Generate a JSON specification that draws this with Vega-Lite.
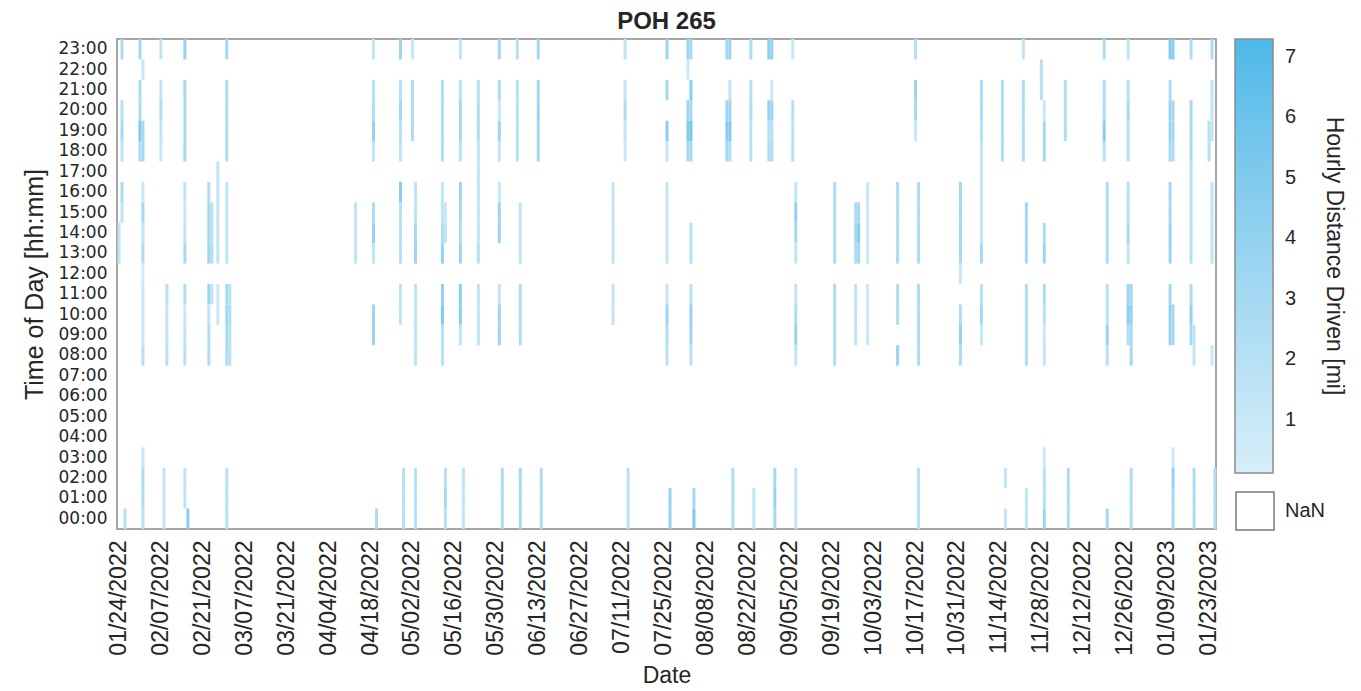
{
"$schema": "https://vega.github.io/schema/vega-lite/v6.json",
"width": 1099, "height": 490,
"autosize": {"type": "none"},
"padding": {"left": 117, "top": 39, "right": 145, "bottom": 162},
"background": "white",
"config": {"font": "Liberation Sans", "view": {"stroke": "#a6a6a6", "strokeWidth": 2}},
"title": {"text": "POH 265", "fontSize": 24, "fontWeight": "bold", "color": "#262626", "offset": 5, "anchor": "middle"},
"layer": [
{
"data": {"values": [
{"d":"01/24/2022","h":14,"v":1.5},{"d":"01/24/2022","h":13,"v":1.5},
{"d":"01/25/2022","h":23,"v":2.5},{"d":"01/25/2022","h":20,"v":2},{"d":"01/25/2022","h":19,"v":3},{"d":"01/25/2022","h":18,"v":1.5},{"d":"01/25/2022","h":16,"v":2.5},{"d":"01/25/2022","h":15,"v":1.5},
{"d":"01/26/2022","h":0,"v":2},
{"d":"01/31/2022","h":23,"v":3},{"d":"01/31/2022","h":21,"v":2.5},{"d":"01/31/2022","h":20,"v":2.5},{"d":"01/31/2022","h":19,"v":5},{"d":"01/31/2022","h":18,"v":2.5},
{"d":"02/01/2022","h":22,"v":1},{"d":"02/01/2022","h":19,"v":3},{"d":"02/01/2022","h":18,"v":3},{"d":"02/01/2022","h":16,"v":1},{"d":"02/01/2022","h":15,"v":3},{"d":"02/01/2022","h":14,"v":1.5},{"d":"02/01/2022","h":13,"v":2.5},{"d":"02/01/2022","h":12,"v":0.5},{"d":"02/01/2022","h":11,"v":1},{"d":"02/01/2022","h":10,"v":1},{"d":"02/01/2022","h":9,"v":1},{"d":"02/01/2022","h":8,"v":2},{"d":"02/01/2022","h":3,"v":1},{"d":"02/01/2022","h":2,"v":2.5},{"d":"02/01/2022","h":1,"v":2.5},{"d":"02/01/2022","h":0,"v":2},
{"d":"02/07/2022","h":23,"v":1.5},{"d":"02/07/2022","h":21,"v":1.5},{"d":"02/07/2022","h":20,"v":2.5},{"d":"02/07/2022","h":19,"v":1.5},{"d":"02/07/2022","h":18,"v":1},
{"d":"02/08/2022","h":2,"v":1.5},{"d":"02/08/2022","h":1,"v":1.5},{"d":"02/08/2022","h":0,"v":1.5},
{"d":"02/09/2022","h":11,"v":2},{"d":"02/09/2022","h":10,"v":1.5},{"d":"02/09/2022","h":9,"v":1.5},{"d":"02/09/2022","h":8,"v":2},
{"d":"02/15/2022","h":23,"v":4},{"d":"02/15/2022","h":21,"v":3},{"d":"02/15/2022","h":20,"v":3},{"d":"02/15/2022","h":19,"v":3},{"d":"02/15/2022","h":18,"v":3},{"d":"02/15/2022","h":16,"v":1.5},{"d":"02/15/2022","h":15,"v":1},{"d":"02/15/2022","h":14,"v":1.5},{"d":"02/15/2022","h":13,"v":3},{"d":"02/15/2022","h":11,"v":2.5},{"d":"02/15/2022","h":10,"v":1},{"d":"02/15/2022","h":9,"v":1.5},{"d":"02/15/2022","h":8,"v":2},{"d":"02/15/2022","h":2,"v":1.5},{"d":"02/15/2022","h":1,"v":1.5},
{"d":"02/16/2022","h":0,"v":4.5},
{"d":"02/23/2022","h":16,"v":2.5},{"d":"02/23/2022","h":15,"v":3},{"d":"02/23/2022","h":14,"v":3},{"d":"02/23/2022","h":13,"v":3.5},{"d":"02/23/2022","h":11,"v":3.5},{"d":"02/23/2022","h":10,"v":1.5},{"d":"02/23/2022","h":9,"v":2.5},{"d":"02/23/2022","h":8,"v":2.5},
{"d":"02/24/2022","h":15,"v":2},{"d":"02/24/2022","h":14,"v":2},{"d":"02/24/2022","h":13,"v":2.5},{"d":"02/24/2022","h":11,"v":1.5},
{"d":"02/26/2022","h":17,"v":1.5},{"d":"02/26/2022","h":16,"v":1.5},{"d":"02/26/2022","h":15,"v":1.5},{"d":"02/26/2022","h":14,"v":1.5},{"d":"02/26/2022","h":13,"v":1.5},{"d":"02/26/2022","h":11,"v":1},{"d":"02/26/2022","h":10,"v":1},
{"d":"03/01/2022","h":23,"v":3},{"d":"03/01/2022","h":21,"v":2.5},{"d":"03/01/2022","h":20,"v":2.5},{"d":"03/01/2022","h":19,"v":2.5},{"d":"03/01/2022","h":18,"v":2.5},{"d":"03/01/2022","h":16,"v":1.5},{"d":"03/01/2022","h":15,"v":1.5},{"d":"03/01/2022","h":14,"v":1.5},{"d":"03/01/2022","h":13,"v":1.5},{"d":"03/01/2022","h":11,"v":3},{"d":"03/01/2022","h":10,"v":3},{"d":"03/01/2022","h":9,"v":3},{"d":"03/01/2022","h":8,"v":2.5},{"d":"03/01/2022","h":2,"v":2},{"d":"03/01/2022","h":1,"v":2},{"d":"03/01/2022","h":0,"v":2},
{"d":"03/02/2022","h":11,"v":2},{"d":"03/02/2022","h":10,"v":2.5},{"d":"03/02/2022","h":9,"v":2},{"d":"03/02/2022","h":8,"v":2},
{"d":"04/13/2022","h":15,"v":1.5},{"d":"04/13/2022","h":14,"v":1.5},{"d":"04/13/2022","h":13,"v":1.5},
{"d":"04/19/2022","h":23,"v":1.5},{"d":"04/19/2022","h":21,"v":2},{"d":"04/19/2022","h":20,"v":2.5},{"d":"04/19/2022","h":19,"v":4},{"d":"04/19/2022","h":18,"v":1.5},{"d":"04/19/2022","h":15,"v":2.5},{"d":"04/19/2022","h":14,"v":4},{"d":"04/19/2022","h":13,"v":1.5},{"d":"04/19/2022","h":10,"v":3.5},{"d":"04/19/2022","h":9,"v":3.5},
{"d":"04/20/2022","h":0,"v":2.5},
{"d":"04/28/2022","h":23,"v":3.5},{"d":"04/28/2022","h":21,"v":2},{"d":"04/28/2022","h":20,"v":3},{"d":"04/28/2022","h":19,"v":2},{"d":"04/28/2022","h":18,"v":1.5},{"d":"04/28/2022","h":16,"v":4.5},{"d":"04/28/2022","h":15,"v":2},{"d":"04/28/2022","h":14,"v":2},{"d":"04/28/2022","h":13,"v":2},{"d":"04/28/2022","h":11,"v":1.5},{"d":"04/28/2022","h":10,"v":1.5},
{"d":"04/29/2022","h":2,"v":2},{"d":"04/29/2022","h":1,"v":2},{"d":"04/29/2022","h":0,"v":2},
{"d":"05/02/2022","h":23,"v":1},{"d":"05/02/2022","h":21,"v":2.5},{"d":"05/02/2022","h":20,"v":2.5},{"d":"05/02/2022","h":19,"v":2.5},
{"d":"05/03/2022","h":16,"v":1.5},{"d":"05/03/2022","h":15,"v":1.5},{"d":"05/03/2022","h":14,"v":3},{"d":"05/03/2022","h":13,"v":3.5},{"d":"05/03/2022","h":11,"v":1.5},{"d":"05/03/2022","h":10,"v":1.5},{"d":"05/03/2022","h":9,"v":1.5},{"d":"05/03/2022","h":8,"v":1.5},{"d":"05/03/2022","h":2,"v":2},{"d":"05/03/2022","h":1,"v":2},{"d":"05/03/2022","h":0,"v":2},
{"d":"05/12/2022","h":21,"v":2.5},{"d":"05/12/2022","h":20,"v":2.5},{"d":"05/12/2022","h":19,"v":2.5},{"d":"05/12/2022","h":18,"v":2.5},{"d":"05/12/2022","h":16,"v":1.5},{"d":"05/12/2022","h":15,"v":1.5},{"d":"05/12/2022","h":14,"v":2.5},{"d":"05/12/2022","h":13,"v":4},{"d":"05/12/2022","h":11,"v":4},{"d":"05/12/2022","h":10,"v":5},{"d":"05/12/2022","h":9,"v":2},{"d":"05/12/2022","h":8,"v":2},
{"d":"05/13/2022","h":15,"v":1},{"d":"05/13/2022","h":14,"v":1.5},{"d":"05/13/2022","h":2,"v":2},{"d":"05/13/2022","h":1,"v":3},{"d":"05/13/2022","h":0,"v":2},
{"d":"05/18/2022","h":23,"v":1.5},{"d":"05/18/2022","h":21,"v":2},{"d":"05/18/2022","h":20,"v":3},{"d":"05/18/2022","h":19,"v":3},{"d":"05/18/2022","h":18,"v":2},{"d":"05/18/2022","h":16,"v":3.5},{"d":"05/18/2022","h":15,"v":3},{"d":"05/18/2022","h":14,"v":2.5},{"d":"05/18/2022","h":13,"v":3.5},{"d":"05/18/2022","h":11,"v":4.5},{"d":"05/18/2022","h":10,"v":4.5},{"d":"05/18/2022","h":9,"v":1.5},
{"d":"05/19/2022","h":2,"v":1.5},{"d":"05/19/2022","h":1,"v":1.5},{"d":"05/19/2022","h":0,"v":1.5},
{"d":"05/24/2022","h":21,"v":2},{"d":"05/24/2022","h":20,"v":2.5},{"d":"05/24/2022","h":19,"v":2.5},{"d":"05/24/2022","h":18,"v":1.5},{"d":"05/24/2022","h":17,"v":1.5},{"d":"05/24/2022","h":16,"v":1.5},{"d":"05/24/2022","h":15,"v":1.5},{"d":"05/24/2022","h":14,"v":1.5},{"d":"05/24/2022","h":13,"v":2},{"d":"05/24/2022","h":11,"v":1.5},{"d":"05/24/2022","h":10,"v":1.5},{"d":"05/24/2022","h":9,"v":1.5},
{"d":"05/31/2022","h":23,"v":3},{"d":"05/31/2022","h":21,"v":2.5},{"d":"05/31/2022","h":20,"v":1},{"d":"05/31/2022","h":19,"v":3.5},{"d":"05/31/2022","h":18,"v":1.5},{"d":"05/31/2022","h":16,"v":1},{"d":"05/31/2022","h":15,"v":3.5},{"d":"05/31/2022","h":14,"v":3.5},{"d":"05/31/2022","h":11,"v":1.5},{"d":"05/31/2022","h":10,"v":3.5},{"d":"05/31/2022","h":9,"v":3.5},
{"d":"06/01/2022","h":2,"v":2.5},{"d":"06/01/2022","h":1,"v":2.5},{"d":"06/01/2022","h":0,"v":2.5},
{"d":"06/06/2022","h":23,"v":2},{"d":"06/06/2022","h":21,"v":2},{"d":"06/06/2022","h":20,"v":2},{"d":"06/06/2022","h":19,"v":2},{"d":"06/06/2022","h":18,"v":2},
{"d":"06/07/2022","h":15,"v":1.5},{"d":"06/07/2022","h":14,"v":1.5},{"d":"06/07/2022","h":13,"v":1.5},{"d":"06/07/2022","h":11,"v":2.5},{"d":"06/07/2022","h":10,"v":2.5},{"d":"06/07/2022","h":9,"v":2.5},{"d":"06/07/2022","h":2,"v":3},{"d":"06/07/2022","h":1,"v":3},{"d":"06/07/2022","h":0,"v":3},
{"d":"06/13/2022","h":23,"v":3},{"d":"06/13/2022","h":21,"v":3},{"d":"06/13/2022","h":20,"v":3.5},{"d":"06/13/2022","h":19,"v":3},{"d":"06/13/2022","h":18,"v":3},
{"d":"06/14/2022","h":2,"v":2.5},{"d":"06/14/2022","h":1,"v":2.5},{"d":"06/14/2022","h":0,"v":2.5},
{"d":"07/08/2022","h":16,"v":1.5},{"d":"07/08/2022","h":15,"v":1.5},{"d":"07/08/2022","h":14,"v":1.5},{"d":"07/08/2022","h":13,"v":1.5},{"d":"07/08/2022","h":11,"v":1.5},{"d":"07/08/2022","h":10,"v":1.5},
{"d":"07/12/2022","h":23,"v":1.5},{"d":"07/12/2022","h":21,"v":1.5},{"d":"07/12/2022","h":20,"v":2.5},{"d":"07/12/2022","h":19,"v":1.5},{"d":"07/12/2022","h":18,"v":1},
{"d":"07/13/2022","h":2,"v":2},{"d":"07/13/2022","h":1,"v":2},{"d":"07/13/2022","h":0,"v":2},
{"d":"07/26/2022","h":23,"v":3.5},{"d":"07/26/2022","h":21,"v":3},{"d":"07/26/2022","h":19,"v":4.5},{"d":"07/26/2022","h":18,"v":1.5},{"d":"07/26/2022","h":16,"v":1.5},{"d":"07/26/2022","h":15,"v":1.5},{"d":"07/26/2022","h":14,"v":1.5},{"d":"07/26/2022","h":13,"v":1.5},{"d":"07/26/2022","h":11,"v":1.5},{"d":"07/26/2022","h":10,"v":3.5},{"d":"07/26/2022","h":9,"v":2.5},{"d":"07/26/2022","h":8,"v":2},
{"d":"07/27/2022","h":1,"v":4},{"d":"07/27/2022","h":0,"v":4},
{"d":"08/02/2022","h":23,"v":3.5},{"d":"08/02/2022","h":22,"v":0.8},{"d":"08/02/2022","h":20,"v":3.5},{"d":"08/02/2022","h":19,"v":5},{"d":"08/02/2022","h":18,"v":3},
{"d":"08/03/2022","h":23,"v":3},{"d":"08/03/2022","h":21,"v":4.5},{"d":"08/03/2022","h":20,"v":3},{"d":"08/03/2022","h":19,"v":5.5},{"d":"08/03/2022","h":18,"v":3},{"d":"08/03/2022","h":14,"v":2},{"d":"08/03/2022","h":13,"v":2},{"d":"08/03/2022","h":11,"v":2},{"d":"08/03/2022","h":10,"v":4},{"d":"08/03/2022","h":9,"v":3.5},{"d":"08/03/2022","h":8,"v":2},
{"d":"08/04/2022","h":1,"v":3},{"d":"08/04/2022","h":0,"v":5},
{"d":"08/15/2022","h":23,"v":3},{"d":"08/15/2022","h":20,"v":3.5},{"d":"08/15/2022","h":19,"v":4.5},{"d":"08/15/2022","h":18,"v":3},
{"d":"08/16/2022","h":23,"v":3.5},{"d":"08/16/2022","h":21,"v":1.5},{"d":"08/16/2022","h":20,"v":3.5},{"d":"08/16/2022","h":19,"v":5},{"d":"08/16/2022","h":18,"v":2.5},
{"d":"08/17/2022","h":2,"v":2.5},{"d":"08/17/2022","h":1,"v":2.5},{"d":"08/17/2022","h":0,"v":2.5},
{"d":"08/23/2022","h":23,"v":2.5},{"d":"08/23/2022","h":21,"v":2},{"d":"08/23/2022","h":20,"v":2.5},{"d":"08/23/2022","h":19,"v":2},{"d":"08/23/2022","h":18,"v":2},
{"d":"08/24/2022","h":1,"v":1.5},{"d":"08/24/2022","h":0,"v":1.5},
{"d":"08/29/2022","h":23,"v":4.5},{"d":"08/29/2022","h":20,"v":4},{"d":"08/29/2022","h":19,"v":2},{"d":"08/29/2022","h":18,"v":2.5},
{"d":"08/30/2022","h":23,"v":4},{"d":"08/30/2022","h":21,"v":1},{"d":"08/30/2022","h":20,"v":3.5},{"d":"08/30/2022","h":19,"v":2},{"d":"08/30/2022","h":18,"v":2.5},
{"d":"08/31/2022","h":2,"v":3},{"d":"08/31/2022","h":1,"v":4},{"d":"08/31/2022","h":0,"v":3},
{"d":"09/06/2022","h":23,"v":1},{"d":"09/06/2022","h":20,"v":2},{"d":"09/06/2022","h":19,"v":2},{"d":"09/06/2022","h":18,"v":2},
{"d":"09/07/2022","h":16,"v":1.5},{"d":"09/07/2022","h":15,"v":4},{"d":"09/07/2022","h":14,"v":3},{"d":"09/07/2022","h":13,"v":1.5},{"d":"09/07/2022","h":11,"v":1.5},{"d":"09/07/2022","h":10,"v":2.5},{"d":"09/07/2022","h":9,"v":3.5},{"d":"09/07/2022","h":8,"v":1.5},{"d":"09/07/2022","h":2,"v":1.5},{"d":"09/07/2022","h":1,"v":1.5},{"d":"09/07/2022","h":0,"v":1.5},
{"d":"09/20/2022","h":16,"v":2.5},{"d":"09/20/2022","h":15,"v":2.5},{"d":"09/20/2022","h":14,"v":2.5},{"d":"09/20/2022","h":13,"v":2.5},{"d":"09/20/2022","h":11,"v":2.5},{"d":"09/20/2022","h":10,"v":2.5},{"d":"09/20/2022","h":9,"v":2.5},{"d":"09/20/2022","h":8,"v":2.5},
{"d":"09/27/2022","h":15,"v":2.5},{"d":"09/27/2022","h":14,"v":3},{"d":"09/27/2022","h":13,"v":2.5},{"d":"09/27/2022","h":11,"v":1.5},{"d":"09/27/2022","h":10,"v":1.5},{"d":"09/27/2022","h":9,"v":1.5},
{"d":"09/28/2022","h":15,"v":3},{"d":"09/28/2022","h":14,"v":4.5},{"d":"09/28/2022","h":13,"v":3},
{"d":"10/01/2022","h":16,"v":1},{"d":"10/01/2022","h":15,"v":1},{"d":"10/01/2022","h":14,"v":1},{"d":"10/01/2022","h":13,"v":1},{"d":"10/01/2022","h":11,"v":1},{"d":"10/01/2022","h":10,"v":1},{"d":"10/01/2022","h":9,"v":1},
{"d":"10/11/2022","h":16,"v":2.5},{"d":"10/11/2022","h":15,"v":2.5},{"d":"10/11/2022","h":14,"v":2.5},{"d":"10/11/2022","h":13,"v":2.5},{"d":"10/11/2022","h":11,"v":2.5},{"d":"10/11/2022","h":10,"v":2.5},{"d":"10/11/2022","h":8,"v":3.5},
{"d":"10/17/2022","h":23,"v":2},{"d":"10/17/2022","h":21,"v":3.5},{"d":"10/17/2022","h":20,"v":3},{"d":"10/17/2022","h":19,"v":1},
{"d":"10/18/2022","h":16,"v":2.5},{"d":"10/18/2022","h":15,"v":2.5},{"d":"10/18/2022","h":14,"v":2.5},{"d":"10/18/2022","h":13,"v":2.5},{"d":"10/18/2022","h":11,"v":2.5},{"d":"10/18/2022","h":10,"v":2.5},{"d":"10/18/2022","h":9,"v":2.5},{"d":"10/18/2022","h":8,"v":2.5},{"d":"10/18/2022","h":2,"v":2},{"d":"10/18/2022","h":1,"v":2},{"d":"10/18/2022","h":0,"v":2},
{"d":"11/01/2022","h":16,"v":3},{"d":"11/01/2022","h":15,"v":3},{"d":"11/01/2022","h":14,"v":3},{"d":"11/01/2022","h":13,"v":3},{"d":"11/01/2022","h":12,"v":1},{"d":"11/01/2022","h":10,"v":2.5},{"d":"11/01/2022","h":9,"v":4},{"d":"11/01/2022","h":8,"v":2.5},
{"d":"11/08/2022","h":21,"v":2.5},{"d":"11/08/2022","h":20,"v":2.5},{"d":"11/08/2022","h":19,"v":2},{"d":"11/08/2022","h":18,"v":1.5},{"d":"11/08/2022","h":17,"v":1.5},{"d":"11/08/2022","h":16,"v":1.5},{"d":"11/08/2022","h":15,"v":1.5},{"d":"11/08/2022","h":14,"v":1.5},{"d":"11/08/2022","h":13,"v":3},{"d":"11/08/2022","h":11,"v":2},{"d":"11/08/2022","h":10,"v":3},{"d":"11/08/2022","h":9,"v":1},
{"d":"11/15/2022","h":21,"v":2.5},{"d":"11/15/2022","h":20,"v":2.5},{"d":"11/15/2022","h":19,"v":2.5},{"d":"11/15/2022","h":18,"v":2.5},
{"d":"11/16/2022","h":2,"v":1.5},{"d":"11/16/2022","h":0,"v":1.5},
{"d":"11/22/2022","h":23,"v":1.5},{"d":"11/22/2022","h":21,"v":2.5},{"d":"11/22/2022","h":20,"v":2.5},{"d":"11/22/2022","h":19,"v":2.5},{"d":"11/22/2022","h":18,"v":2.5},
{"d":"11/23/2022","h":15,"v":3},{"d":"11/23/2022","h":14,"v":3},{"d":"11/23/2022","h":13,"v":3},{"d":"11/23/2022","h":11,"v":2.5},{"d":"11/23/2022","h":10,"v":2.5},{"d":"11/23/2022","h":9,"v":2.5},{"d":"11/23/2022","h":8,"v":2.5},{"d":"11/23/2022","h":1,"v":1.5},{"d":"11/23/2022","h":0,"v":1.5},
{"d":"11/28/2022","h":22,"v":2},{"d":"11/28/2022","h":21,"v":2},
{"d":"11/29/2022","h":20,"v":1},{"d":"11/29/2022","h":19,"v":3},{"d":"11/29/2022","h":18,"v":3},{"d":"11/29/2022","h":14,"v":2.5},{"d":"11/29/2022","h":13,"v":3.5},{"d":"11/29/2022","h":11,"v":2.5},{"d":"11/29/2022","h":10,"v":2},{"d":"11/29/2022","h":9,"v":1},{"d":"11/29/2022","h":8,"v":1.5},{"d":"11/29/2022","h":3,"v":1},{"d":"11/29/2022","h":2,"v":2},{"d":"11/29/2022","h":1,"v":2},{"d":"11/29/2022","h":0,"v":3.5},
{"d":"12/06/2022","h":21,"v":2.5},{"d":"12/06/2022","h":20,"v":2.5},{"d":"12/06/2022","h":19,"v":2.5},
{"d":"12/07/2022","h":2,"v":2.5},{"d":"12/07/2022","h":1,"v":2.5},{"d":"12/07/2022","h":0,"v":2.5},
{"d":"12/19/2022","h":23,"v":2.5},{"d":"12/19/2022","h":21,"v":2.5},{"d":"12/19/2022","h":20,"v":2.5},{"d":"12/19/2022","h":19,"v":4.5},{"d":"12/19/2022","h":18,"v":2},
{"d":"12/20/2022","h":16,"v":2.5},{"d":"12/20/2022","h":15,"v":2.5},{"d":"12/20/2022","h":14,"v":2.5},{"d":"12/20/2022","h":13,"v":2.5},{"d":"12/20/2022","h":11,"v":2},{"d":"12/20/2022","h":10,"v":2},{"d":"12/20/2022","h":9,"v":4},{"d":"12/20/2022","h":8,"v":2},{"d":"12/20/2022","h":0,"v":3},
{"d":"12/27/2022","h":23,"v":1.5},{"d":"12/27/2022","h":21,"v":2},{"d":"12/27/2022","h":20,"v":3},{"d":"12/27/2022","h":19,"v":2},{"d":"12/27/2022","h":18,"v":2},{"d":"12/27/2022","h":16,"v":2},{"d":"12/27/2022","h":15,"v":2},{"d":"12/27/2022","h":14,"v":3},{"d":"12/27/2022","h":13,"v":1.5},{"d":"12/27/2022","h":11,"v":3.5},{"d":"12/27/2022","h":10,"v":4.5},{"d":"12/27/2022","h":9,"v":2.5},
{"d":"12/28/2022","h":11,"v":3},{"d":"12/28/2022","h":10,"v":4},{"d":"12/28/2022","h":9,"v":3},{"d":"12/28/2022","h":8,"v":3},{"d":"12/28/2022","h":2,"v":2.5},{"d":"12/28/2022","h":1,"v":2.5},{"d":"12/28/2022","h":0,"v":2.5},
{"d":"01/10/2023","h":23,"v":5},{"d":"01/10/2023","h":21,"v":2.5},{"d":"01/10/2023","h":20,"v":3.5},{"d":"01/10/2023","h":19,"v":3.5},{"d":"01/10/2023","h":18,"v":3},{"d":"01/10/2023","h":16,"v":3},{"d":"01/10/2023","h":15,"v":3},{"d":"01/10/2023","h":14,"v":4},{"d":"01/10/2023","h":13,"v":3.5},{"d":"01/10/2023","h":11,"v":3},{"d":"01/10/2023","h":10,"v":4},{"d":"01/10/2023","h":9,"v":3.5},
{"d":"01/11/2023","h":23,"v":4.5},{"d":"01/11/2023","h":20,"v":3},{"d":"01/11/2023","h":19,"v":3},{"d":"01/11/2023","h":18,"v":2.5},{"d":"01/11/2023","h":10,"v":3},{"d":"01/11/2023","h":9,"v":3},{"d":"01/11/2023","h":3,"v":1},{"d":"01/11/2023","h":2,"v":4},{"d":"01/11/2023","h":1,"v":3},{"d":"01/11/2023","h":0,"v":3},
{"d":"01/17/2023","h":23,"v":2.5},{"d":"01/17/2023","h":20,"v":3},{"d":"01/17/2023","h":19,"v":3},{"d":"01/17/2023","h":18,"v":3},{"d":"01/17/2023","h":17,"v":2},{"d":"01/17/2023","h":16,"v":2},{"d":"01/17/2023","h":15,"v":2},{"d":"01/17/2023","h":14,"v":2},{"d":"01/17/2023","h":13,"v":2},{"d":"01/17/2023","h":11,"v":2.5},{"d":"01/17/2023","h":10,"v":4},{"d":"01/17/2023","h":9,"v":3},
{"d":"01/18/2023","h":9,"v":1.5},{"d":"01/18/2023","h":8,"v":1.5},{"d":"01/18/2023","h":2,"v":2.5},{"d":"01/18/2023","h":1,"v":2.5},{"d":"01/18/2023","h":0,"v":2.5},
{"d":"01/23/2023","h":19,"v":2},{"d":"01/23/2023","h":18,"v":2},
{"d":"01/24/2023","h":23,"v":2.5},{"d":"01/24/2023","h":21,"v":1.5},{"d":"01/24/2023","h":20,"v":1.5},{"d":"01/24/2023","h":19,"v":1.5},{"d":"01/24/2023","h":16,"v":1.5},{"d":"01/24/2023","h":15,"v":1.5},{"d":"01/24/2023","h":14,"v":1.5},{"d":"01/24/2023","h":13,"v":1.5},{"d":"01/24/2023","h":8,"v":1},
{"d":"01/25/2023","h":2,"v":2.5},{"d":"01/25/2023","h":1,"v":2.5},{"d":"01/25/2023","h":0,"v":2.5}
]},
"mark": {"type": "rect"},
"encoding": {
"x": {"field": "d", "type": "temporal", "timeUnit": "yearmonthdate",
 "scale": {"domain": [{"year": 2022, "month": 1, "date": 24}, {"year": 2023, "month": 1, "date": 26}], "nice": false},
 "axis": {"values": [
  {"year":2022,"month":1,"date":24,"hours":12},{"year":2022,"month":2,"date":7,"hours":12},{"year":2022,"month":2,"date":21,"hours":12},
  {"year":2022,"month":3,"date":7,"hours":12},{"year":2022,"month":3,"date":21,"hours":12},{"year":2022,"month":4,"date":4,"hours":12},
  {"year":2022,"month":4,"date":18,"hours":12},{"year":2022,"month":5,"date":2,"hours":12},{"year":2022,"month":5,"date":16,"hours":12},
  {"year":2022,"month":5,"date":30,"hours":12},{"year":2022,"month":6,"date":13,"hours":12},{"year":2022,"month":6,"date":27,"hours":12},
  {"year":2022,"month":7,"date":11,"hours":12},{"year":2022,"month":7,"date":25,"hours":12},{"year":2022,"month":8,"date":8,"hours":12},
  {"year":2022,"month":8,"date":22,"hours":12},{"year":2022,"month":9,"date":5,"hours":12},{"year":2022,"month":9,"date":19,"hours":12},
  {"year":2022,"month":10,"date":3,"hours":12},{"year":2022,"month":10,"date":17,"hours":12},{"year":2022,"month":10,"date":31,"hours":12},
  {"year":2022,"month":11,"date":14,"hours":12},{"year":2022,"month":11,"date":28,"hours":12},{"year":2022,"month":12,"date":12,"hours":12},
  {"year":2022,"month":12,"date":26,"hours":12},{"year":2023,"month":1,"date":9,"hours":12},{"year":2023,"month":1,"date":23,"hours":12}],
  "format": "%m/%d/%Y", "formatType": "time", "labelAngle": 270, "labelAlign": "right", "labelBaseline": "middle",
  "labelFontSize": 23, "labelColor": "#262626", "labelPadding": 11, "labelOverlap": false, "labelFlush": false,
  "ticks": false, "domain": false, "grid": false,
  "title": "Date", "titleFontSize": 23, "titleFontWeight": "normal", "titleColor": "#262626", "titlePadding": 9}},
"y": {"field": "h", "type": "ordinal",
 "scale": {"domain": [23,22,21,20,19,18,17,16,15,14,13,12,11,10,9,8,7,6,5,4,3,2,1,0], "paddingInner": 0, "paddingOuter": 0},
 "axis": {"labelExpr": "(datum.value < 10 ? '0' : '') + datum.value + ':00'", "labelFont": "DejaVu Sans", "labelFontSize": 17, "labelColor": "#262626", "labelPadding": 10,
  "ticks": false, "domain": false, "grid": false,
  "title": "Time of Day [hh:mm]", "titleFontSize": 25, "titleFontWeight": "normal", "titleColor": "#262626", "titlePadding": 11}},
"color": {"field": "v", "type": "quantitative",
 "scale": {"domain": [0.12, 7.29], "range": ["#d6eef9", "#4cb9e9"]},
 "legend": {"orient": "none", "legendX": 1118, "legendY": 0, "direction": "vertical",
  "gradientLength": 434, "gradientThickness": 38, "gradientStrokeColor": "#8c8c8c", "gradientStrokeWidth": 1.5,
  "values": [1,2,3,4,5,6,7], "labelFontSize": 20, "labelColor": "#262626", "labelOffset": 12,
  "title": "Hourly Distance Driven [mi]", "titleOrient": "right", "titleFontSize": 23, "titleFontWeight": "normal",
  "titleColor": "#262626", "titleAnchor": "middle", "titlePadding": 26, "titleLimit": 600}}
}
},
{
"data": {"values": [{"k": "NaN"}]},
"mark": {"type": "point", "opacity": 0, "filled": false, "color": "#7a7a7a", "strokeWidth": 1.5},
"encoding": {
"shape": {"field": "k", "type": "nominal", "scale": {"range": ["square"]},
 "legend": {"orient": "none", "legendX": 1118, "legendY": 452, "title": null,
  "symbolType": "square", "symbolSize": 1444, "symbolStrokeColor": "#7a7a7a", "symbolFillColor": "white",
  "symbolStrokeWidth": 1.5, "symbolOpacity": 1, "labelFontSize": 20, "labelColor": "#262626", "labelOffset": 10}}
}
}
]
}
